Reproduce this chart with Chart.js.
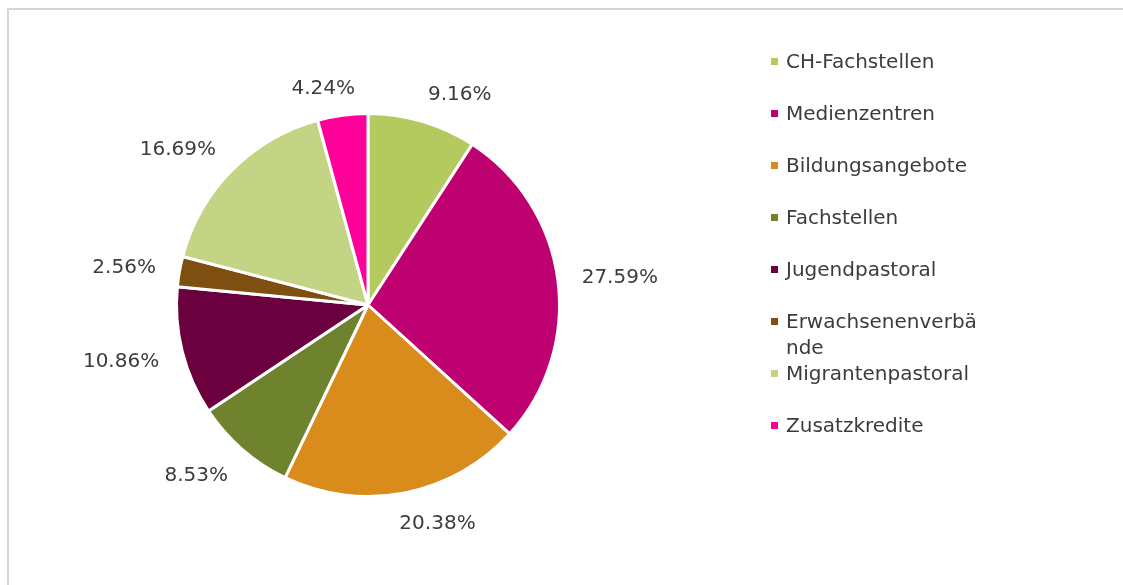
<!DOCTYPE html>
<html>
<head>
<meta charset="utf-8">
<script src="https://cdn.jsdelivr.net/npm/chart.js@4.4.1/dist/chart.umd.min.js"></script>
<style>
  html, body { margin: 0; padding: 0; background: #fff; }
  #wrap { position: relative; width: 1123px; height: 585px; overflow: hidden; }
  #frame { position: absolute; left: 7px; top: 8px; width: 1300px; height: 800px;
           border-top: 2px solid #d6d6d6; border-left: 2px solid #d6d6d6; }
  canvas { position: absolute; left: 0; top: 0; }
</style>
</head>
<body>
<div id="wrap">
  <div id="frame"></div>
  <canvas id="pie" width="1123" height="585"></canvas>
</div>
<script>
// data
const categories = ['CH-Fachstellen', 'Medienzentren', 'Bildungsangebote', 'Fachstellen',
  'Jugendpastoral', 'Erwachsenenverbände', 'Migrantenpastoral', 'Zusatzkredite'];
const shares = [9.16, 27.59, 20.38, 8.53, 10.86, 2.56, 16.69, 4.24];
const sliceColors = ['#b4c95e', '#be0070', '#d98b1b', '#6f822e',
  '#6b003f', '#7e4f10', '#c3d584', '#ff0099'];

const textColor = '#3c3c3c';
const font = '20px "DejaVu Sans", Verdana, sans-serif';

// percent labels outside each slice
const outsideLabels = {
  id: 'outsideLabels',
  afterDatasetsDraw(chart) {
    const ctx = chart.ctx;
    const meta = chart.getDatasetMeta(0);
    ctx.save();
    ctx.font = font;
    ctx.fillStyle = textColor;
    ctx.textAlign = 'center';
    ctx.textBaseline = 'alphabetic';
    meta.data.forEach((arc, i) => {
      const p = arc.getProps(['x', 'y', 'startAngle', 'endAngle', 'outerRadius'], true);
      const mid = (p.startAngle + p.endAngle) / 2;
      const cos = Math.cos(mid), sin = Math.sin(mid);
      const txt = shares[i].toFixed(2) + '%';
      const w = ctx.measureText(txt).width;
      const h = 20;
      const r = p.outerRadius + 18 + 6 * Math.abs(cos);
      const cx = p.x + cos * r + Math.sign(cos) * Math.min(1, Math.abs(cos) * 4) * w / 2;
      const cy = p.y + sin * r + sin * h / 2;
      ctx.fillText(txt, cx, cy + 7);
    });
    ctx.restore();
  }
};

// legend on the right, wrapped like the original
const sideLegend = {
  id: 'sideLegend',
  afterDraw(chart) {
    const ctx = chart.ctx;
    const x0 = 771, tx = 786, maxW = 198;
    ctx.save();
    ctx.font = font;
    ctx.textAlign = 'left';
    ctx.textBaseline = 'alphabetic';
    categories.forEach((name, i) => {
      const cy = 61 + 52 * i;
      // char wrap
      const lines = [];
      let cur = '';
      for (const ch of name) {
        if (cur && ctx.measureText(cur + ch).width > maxW) { lines.push(cur); cur = ch; }
        else cur += ch;
      }
      lines.push(cur);
      ctx.fillStyle = sliceColors[i];
      ctx.fillRect(x0, cy - 3, 7, 7);
      ctx.fillStyle = textColor;
      lines.forEach((ln, k) => ctx.fillText(ln, tx, cy + 7 + k * 26));
    });
    ctx.restore();
  }
};

new Chart(document.getElementById('pie'), {
  type: 'pie',
  data: {
    labels: categories,
    datasets: [{
      data: shares,
      backgroundColor: sliceColors,
      borderColor: '#ffffff',
      borderWidth: 3
    }]
  },
  options: {
    responsive: false,
    animation: false,
    layout: { padding: { left: 175, right: 562, top: 112, bottom: 87 } },
    plugins: {
      legend: { display: false },
      tooltip: { enabled: false }
    }
  },
  plugins: [outsideLabels, sideLegend]
});
</script>
</body>
</html>
